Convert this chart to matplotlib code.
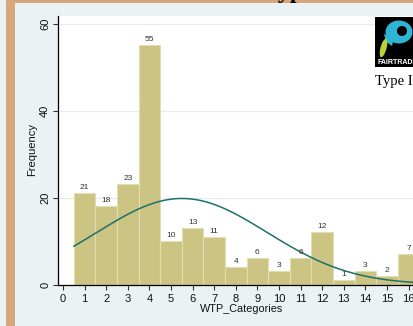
import numpy as np
import matplotlib.pyplot as plt
from matplotlib.patches import Rectangle, Ellipse, Circle, Polygon

plt.rcParams['font.family'] = ['Liberation Sans', 'DejaVu Sans']

# WTP categories and their frequencies
categories = [1, 2, 3, 4, 5, 6, 7, 8, 9, 10, 11, 12, 13, 14, 15, 16]
counts = [21, 18, 23, 55, 10, 13, 11, 4, 6, 3, 6, 12, 1, 3, 2, 7]
x_ticks = list(range(0, 17))
y_ticks = [0, 20, 40, 60]

bar_color = '#cbc482'
bar_edge = '#e2deb4'
curve_color = '#1f6f6a'
bg_color = '#eaf2f3'
tan = '#d6a67d'

fig = plt.figure(figsize=(4.14, 3.26), dpi=100, facecolor=bg_color)

# main histogram axes (pixel layout converted to figure fractions)
W, H = 414, 326
ax = fig.add_axes([58 / W, (H - 284.5) / H, 1 - 58 / W, (284.5 - 16) / H])
ax.set_facecolor('white')

ax.bar(categories, counts, width=1.0, color=bar_color, edgecolor=bar_edge,
       linewidth=0.8, zorder=2)

for c, v in zip(categories, counts):
    ax.annotate(str(v), (c, v), xytext=(0, 1.5), textcoords='offset points',
                ha='center', va='bottom', fontsize=6, color='#333333', zorder=4)

# normal density overlay scaled to the frequency histogram
vals = np.array(categories, dtype=float)
freq = np.array(counts, dtype=float)
n = freq.sum()
mu = (vals * freq).sum() / n
sd = np.sqrt(((vals - mu) ** 2 * freq).sum() / n)
xs = np.linspace(0.5, 17.5, 300)
ys = n * 1.0 * np.exp(-0.5 * ((xs - mu) / sd) ** 2) / (sd * np.sqrt(2 * np.pi))
ax.plot(xs, ys, color=curve_color, linewidth=1.1, zorder=3)

ax.set_xlim(-5 / 21.6, -5 / 21.6 + 356 / 21.6)
ax.set_ylim(0, 268.5 / 4.35)
ax.set_xticks(x_ticks)
ax.set_yticks(y_ticks)
ax.grid(axis='y', color='#e4ecee', linewidth=0.8, zorder=0)
ax.set_axisbelow(True)

for s in ['top', 'right']:
    ax.spines[s].set_visible(False)
for s in ['left', 'bottom']:
    ax.spines[s].set_color('black')
    ax.spines[s].set_linewidth(0.9)

ax.tick_params(axis='x', length=3.6, width=0.8, color='#333333', pad=3,
               labelsize=8, labelcolor='#111111')
ax.tick_params(axis='y', length=3.6, width=0.8, color='#333333', pad=2,
               labelsize=8, labelcolor='#111111')
plt.setp(ax.get_yticklabels(), rotation=90, va='center')

ax.text(0.517, -0.073, 'WTP_Categories', transform=ax.transAxes,
        ha='center', va='top', fontsize=7.8, color='#111111')
ax.text(-0.073, 0.501, 'Frequency', transform=ax.transAxes, rotation=90,
        ha='center', va='center', fontsize=8, color='#111111')

# overlay in pixel coordinates for the slide frame, title and logo
ov = fig.add_axes([0, 0, 1, 1])
ov.set_xlim(0, W)
ov.set_ylim(H, 0)
ov.axis('off')
ov.patch.set_alpha(0)

ov.add_patch(Rectangle((6, 0), 9, H, color=tan, lw=0))
ov.add_patch(Rectangle((6, 0), W - 6, 3, color=tan, lw=0))
ov.text(265, -2.2, 'Type', fontsize=17, family='Liberation Serif',
        fontweight='bold', ha='left', va='baseline', color='black')

ov.add_patch(Rectangle((375, 17), 45, 50, color='black', lw=0))
ov.add_patch(Ellipse((399, 32), 27, 23, color='#2fb4d6', lw=0))
ov.add_patch(Polygon([(384, 34), (394, 38), (392, 46), (386, 42)],
                     closed=True, color='#2fb4d6', lw=0))
ov.add_patch(Circle((402, 31), 5, color='black', lw=0))
ov.add_patch(Ellipse((383.5, 48), 6, 19, angle=15, color='#b8d432', lw=0))
ov.text(377.5, 62.5, 'FAIRTRADE', color='white', fontsize=5, fontweight='bold',
        ha='left', va='center')
ov.text(375, 84.5, 'Type I', family='Liberation Serif', fontsize=10.5,
        ha='left', va='baseline', color='black')

fig.savefig('out.png', dpi=100, facecolor=bg_color)
